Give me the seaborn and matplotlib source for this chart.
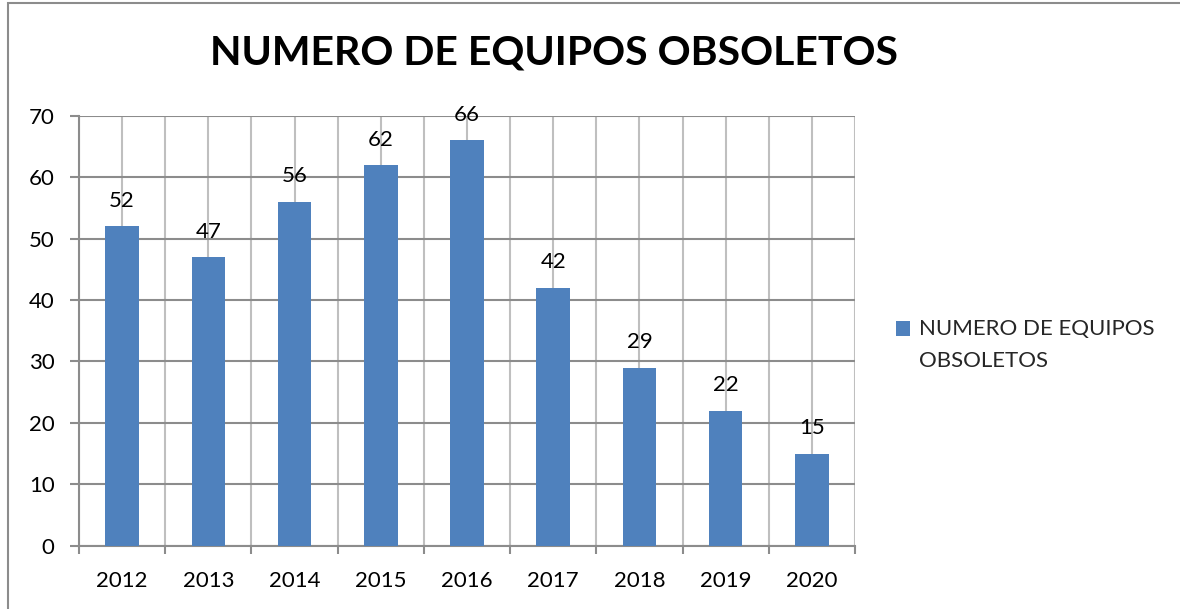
import matplotlib
matplotlib.use("Agg")
import matplotlib.pyplot as plt
import seaborn as sns
import pandas as pd
from matplotlib.patches import Rectangle

years = ["2012", "2013", "2014", "2015", "2016", "2017", "2018", "2019", "2020"]
values = [52, 47, 56, 62, 66, 42, 29, 22, 15]
series_name = "NUMERO DE EQUIPOS OBSOLETOS"
legend_label = "NUMERO DE EQUIPOS\nOBSOLETOS"
yticks = [0, 10, 20, 30, 40, 50, 60, 70]

sns.set_theme(style="white")
plt.rcParams["font.family"] = ["Lato", "DejaVu Sans"]

df = pd.DataFrame({"year": years, "value": values, "series": legend_label})

W, H = 1180, 609
fig = plt.figure(figsize=(W / 100, H / 100), dpi=100)
ax = fig.add_axes([79 / W, 1 - 545.7 / H, (855 - 79) / W, (545.7 - 115.7) / H])

bar_color = "#4F81BD"
sns.barplot(data=df, x="year", y="value", hue="series", palette=[bar_color],
            width=0.39, ax=ax, saturation=1, linewidth=0, zorder=3)

ax.set_xlim(-0.5, len(years) - 0.5)
ax.set_ylim(0, 70)
ax.set_yticks(yticks)
ax.set_xlabel("")
ax.set_ylabel("")

fs = 16

ax.set_xticks([i for i in range(len(years))])
ax.set_xticklabels(years)
ax.set_xticks([i - 0.5 for i in range(len(years) + 1)], minor=True)
ax.grid(axis="x", which="both", color="#BFBFBF", linewidth=1.5, zorder=0)
ax.grid(axis="y", which="major", color="#8C8C8C", linewidth=1.5, zorder=1)
ax.set_axisbelow(True)

for s in ["top", "right"]:
    ax.spines[s].set_visible(False)
for s in ["left", "bottom"]:
    ax.spines[s].set_color("#8C8C8C")
    ax.spines[s].set_linewidth(1.5)

ax.tick_params(axis="x", which="major", length=0, pad=18, labelsize=fs, labelcolor="black")
ax.tick_params(axis="x", which="minor", length=6, width=1.5, color="#8C8C8C", direction="out", bottom=True)
ax.tick_params(axis="y", which="major", length=6.5, width=1.5, color="#8C8C8C", direction="out",
               pad=11, labelsize=fs, labelcolor="black", left=True)

for i, v in enumerate(values):
    ax.annotate(str(v), (i, v), xytext=(0, 11), textcoords="offset points",
                ha="center", va="bottom", fontsize=fs, color="black")

fig.text(554 / W, 1 - 53 / H, series_name, ha="center", va="center",
         fontsize=29.5, fontweight="bold", color="black")

leg = ax.legend(loc="upper left", bbox_to_anchor=(896 / W, 1 - 319 / H),
                bbox_transform=fig.transFigure, frameon=False, fontsize=fs,
                handlelength=0.65, handleheight=0.65, handletextpad=0.4,
                borderpad=0, borderaxespad=0, labelspacing=0)
for t in leg.get_texts():
    t.set_linespacing(1.75)
for h in leg.legend_handles:
    h.set_y(h.get_y() + 12)

fig.patches.append(Rectangle((8 / W, -0.05), 1.2, 1 - 3 / H + 0.05, transform=fig.transFigure,
                             fill=False, edgecolor="#8C8C8C", linewidth=1.5, zorder=10))

fig.savefig("out.png", dpi=100)
